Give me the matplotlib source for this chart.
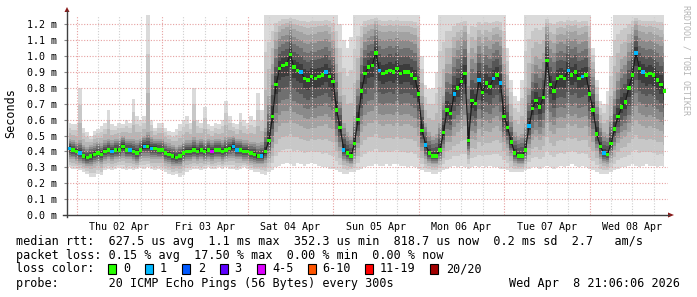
import numpy as np
import matplotlib
matplotlib.use("Agg")
import matplotlib.pyplot as plt
from matplotlib.lines import Line2D
from matplotlib.patches import Rectangle, Polygon

# hours since Thu 02 Apr 00:00 (one sample per hour, Apr 1 22:00 .. Apr 8 21:00)
hours = np.arange(-2, 166)

# median rtt in ms
median_rtt = [
    0.42, 0.41,
    0.40, 0.39, 0.37, 0.36, 0.37, 0.38, 0.39, 0.38, 0.40, 0.41, 0.40, 0.41, 0.41, 0.43, 0.41, 0.41, 0.40, 0.39, 0.41, 0.43, 0.43, 0.42, 0.42, 0.41,
    0.41, 0.39, 0.38, 0.37, 0.36, 0.37, 0.39, 0.40, 0.40, 0.41, 0.40, 0.41, 0.40, 0.41, 0.40, 0.41, 0.41, 0.40, 0.41, 0.42, 0.43, 0.41, 0.41, 0.40,
    0.40, 0.39, 0.38, 0.37, 0.37, 0.40, 0.47, 0.62, 0.82, 0.92, 0.94, 0.95, 1.01, 0.93, 0.91, 0.90, 0.86, 0.85, 0.87, 0.86, 0.87, 0.88, 0.90, 0.87,
    0.84, 0.66, 0.55, 0.41, 0.39, 0.37, 0.45, 0.60, 0.78, 0.89, 0.93, 0.94, 1.02, 0.91, 0.89, 0.90, 0.91, 0.90, 0.92, 0.89, 0.90, 0.90, 0.88, 0.86,
    0.76, 0.53, 0.44, 0.39, 0.37, 0.37, 0.41, 0.52, 0.66, 0.64, 0.76, 0.80, 0.84, 0.89, 0.47, 0.72, 0.70, 0.85, 0.77, 0.83, 0.81, 0.86, 0.88, 0.83,
    0.62, 0.55, 0.46, 0.39, 0.37, 0.37, 0.41, 0.56, 0.67, 0.72, 0.68, 0.74, 0.97, 0.82, 0.78, 0.86, 0.87, 0.86, 0.91, 0.88, 0.90, 0.86, 0.87, 0.88,
    0.76, 0.66, 0.51, 0.43, 0.39, 0.38, 0.45, 0.54, 0.62, 0.68, 0.71, 0.80, 0.88, 1.02, 0.92, 0.90, 0.88, 0.89, 0.88, 0.85, 0.82, 0.78,
]

# smoke: fastest ping, lower quartile, upper quartile, slowest ping (ms)
smoke_lo = [
    0.30, 0.29,
    0.29, 0.28, 0.27, 0.26, 0.24, 0.24, 0.26, 0.25, 0.28, 0.29, 0.28, 0.29, 0.30, 0.29, 0.28, 0.29, 0.28, 0.29, 0.30, 0.29, 0.30, 0.29, 0.28, 0.29,
    0.28, 0.27, 0.26, 0.25, 0.26, 0.24, 0.25, 0.27, 0.28, 0.29, 0.29, 0.28, 0.29, 0.30, 0.29, 0.29, 0.30, 0.29, 0.30, 0.29, 0.29, 0.28, 0.29, 0.30,
    0.29, 0.28, 0.27, 0.27, 0.26, 0.25, 0.27, 0.28, 0.30, 0.31, 0.32, 0.33, 0.32, 0.31, 0.33, 0.32, 0.31, 0.32, 0.33, 0.32, 0.31, 0.30, 0.30, 0.29,
    0.29, 0.28, 0.27, 0.26, 0.26, 0.27, 0.27, 0.28, 0.29, 0.30, 0.31, 0.31, 0.32, 0.31, 0.31, 0.32, 0.31, 0.32, 0.32, 0.31, 0.31, 0.30, 0.31, 0.30,
    0.29, 0.28, 0.27, 0.27, 0.26, 0.26, 0.27, 0.28, 0.29, 0.30, 0.31, 0.30, 0.31, 0.30, 0.29, 0.30, 0.31, 0.30, 0.31, 0.30, 0.31, 0.30, 0.30, 0.29,
    0.29, 0.28, 0.27, 0.27, 0.27, 0.27, 0.28, 0.29, 0.30, 0.30, 0.29, 0.30, 0.31, 0.30, 0.29, 0.30, 0.31, 0.30, 0.31, 0.32, 0.31, 0.30, 0.31, 0.30,
    0.29, 0.28, 0.27, 0.26, 0.26, 0.26, 0.27, 0.28, 0.29, 0.30, 0.30, 0.31, 0.32, 0.31, 0.30, 0.31, 0.32, 0.31, 0.31, 0.30, 0.31, 0.30,
]
smoke_q1 = [
    0.35, 0.35,
    0.34, 0.33, 0.32, 0.31, 0.31, 0.32, 0.33, 0.32, 0.34, 0.35, 0.34, 0.35, 0.35, 0.36, 0.35, 0.35, 0.34, 0.33, 0.35, 0.36, 0.36, 0.35, 0.35, 0.35,
    0.35, 0.33, 0.32, 0.31, 0.31, 0.31, 0.33, 0.34, 0.34, 0.35, 0.34, 0.35, 0.34, 0.35, 0.34, 0.35, 0.35, 0.34, 0.35, 0.36, 0.36, 0.35, 0.35, 0.34,
    0.34, 0.33, 0.32, 0.32, 0.32, 0.33, 0.36, 0.42, 0.52, 0.56, 0.58, 0.58, 0.60, 0.58, 0.57, 0.56, 0.55, 0.54, 0.55, 0.55, 0.56, 0.56, 0.57, 0.55,
    0.54, 0.46, 0.40, 0.34, 0.33, 0.32, 0.35, 0.42, 0.52, 0.56, 0.58, 0.58, 0.60, 0.57, 0.56, 0.57, 0.57, 0.56, 0.58, 0.56, 0.57, 0.57, 0.56, 0.55,
    0.50, 0.40, 0.35, 0.33, 0.32, 0.32, 0.34, 0.40, 0.46, 0.46, 0.50, 0.52, 0.54, 0.56, 0.38, 0.48, 0.47, 0.54, 0.50, 0.53, 0.52, 0.55, 0.56, 0.53,
    0.46, 0.42, 0.37, 0.33, 0.32, 0.32, 0.34, 0.42, 0.47, 0.49, 0.47, 0.50, 0.58, 0.53, 0.51, 0.55, 0.55, 0.55, 0.57, 0.56, 0.57, 0.55, 0.55, 0.56,
    0.50, 0.46, 0.40, 0.35, 0.33, 0.32, 0.36, 0.41, 0.45, 0.48, 0.49, 0.52, 0.56, 0.60, 0.57, 0.56, 0.55, 0.56, 0.55, 0.54, 0.53, 0.51,
]
smoke_q3 = [
    0.48, 0.47,
    0.46, 0.47, 0.44, 0.43, 0.44, 0.45, 0.46, 0.45, 0.47, 0.48, 0.47, 0.48, 0.48, 0.50, 0.48, 0.48, 0.48, 0.47, 0.48, 0.50, 0.52, 0.49, 0.48, 0.48,
    0.48, 0.46, 0.45, 0.44, 0.43, 0.44, 0.46, 0.47, 0.47, 0.49, 0.47, 0.48, 0.47, 0.48, 0.47, 0.48, 0.48, 0.47, 0.49, 0.49, 0.50, 0.48, 0.48, 0.47,
    0.47, 0.46, 0.46, 0.45, 0.46, 0.55, 0.75, 0.95, 1.10, 1.15, 1.17, 1.18, 1.20, 1.17, 1.16, 1.15, 1.14, 1.13, 1.14, 1.14, 1.15, 1.15, 1.16, 1.14,
    1.10, 0.95, 0.75, 0.58, 0.52, 0.50, 0.62, 0.85, 1.05, 1.14, 1.16, 1.17, 1.20, 1.16, 1.15, 1.15, 1.16, 1.15, 1.16, 1.15, 1.15, 1.15, 1.14, 1.13,
    1.05, 0.75, 0.58, 0.52, 0.50, 0.51, 0.58, 0.75, 0.95, 0.95, 1.05, 1.10, 1.12, 1.15, 0.90, 1.05, 1.02, 1.12, 1.08, 1.12, 1.10, 1.13, 1.14, 1.12,
    0.95, 0.80, 0.62, 0.52, 0.50, 0.51, 0.58, 0.80, 0.95, 1.00, 0.98, 1.02, 1.18, 1.10, 1.08, 1.13, 1.14, 1.13, 1.16, 1.15, 1.16, 1.13, 1.14, 1.15,
    1.05, 0.92, 0.72, 0.58, 0.52, 0.51, 0.62, 0.78, 0.90, 0.98, 1.00, 1.08, 1.14, 1.20, 1.16, 1.15, 1.14, 1.15, 1.14, 1.13, 1.12, 1.08,
]
smoke_hi = [
    0.58, 0.57,
    0.57, 0.80, 0.55, 0.52, 0.50, 0.53, 0.54, 0.56, 0.58, 0.66, 0.57, 0.56, 0.58, 0.57, 0.60, 0.58, 0.73, 0.62, 0.60, 0.62, 1.26, 0.60, 0.55, 0.58,
    0.58, 0.55, 0.53, 0.52, 0.54, 0.57, 0.60, 0.62, 0.58, 0.80, 0.60, 0.58, 0.68, 0.57, 0.56, 0.58, 0.57, 0.60, 0.72, 0.62, 0.58, 0.57, 0.64, 0.60,
    0.58, 0.62, 0.60, 0.77, 0.66, 1.26, 1.26, 1.26, 1.26, 1.26, 1.26, 1.26, 1.26, 1.26, 1.26, 1.26, 1.26, 1.26, 1.26, 1.26, 1.26, 1.26, 1.26, 1.26,
    1.26, 1.26, 1.20, 1.10, 1.05, 1.12, 1.26, 1.26, 1.26, 1.26, 1.26, 1.26, 1.26, 1.26, 1.26, 1.26, 1.26, 1.26, 1.26, 1.26, 1.26, 1.26, 1.26, 1.26,
    1.26, 1.00, 0.82, 0.79, 0.80, 0.90, 1.26, 1.26, 1.26, 1.26, 1.26, 1.26, 1.26, 1.26, 1.26, 1.26, 1.26, 1.26, 1.26, 1.26, 1.26, 1.26, 1.26, 1.26,
    1.26, 1.05, 0.85, 0.75, 0.72, 0.85, 1.26, 1.26, 1.26, 1.26, 1.26, 1.26, 1.26, 1.26, 1.26, 1.26, 1.26, 1.26, 1.26, 1.26, 1.26, 1.26, 1.26, 1.26,
    1.26, 1.05, 0.85, 0.72, 0.70, 0.78, 1.00, 1.26, 1.26, 1.26, 1.26, 1.26, 1.26, 1.26, 1.26, 1.26, 1.26, 1.26, 1.26, 1.26, 1.26, 1.26,
]

# samples with packet loss (index into hours, lost pings out of 20)
lossy_idx = [0, 3, 12, 17, 21, 23, 40, 46, 47, 54, 65, 72, 77, 87, 100, 108, 115, 119, 121, 129, 140, 144, 150, 159, 161]
lossy_count = [1, 1, 1, 1, 1, 1, 4, 1, 1, 1, 1, 1, 1, 1, 1, 1, 1, 1, 1, 1, 1, 1, 1, 1, 1]

day_labels = ["Thu 02 Apr", "Fri 03 Apr", "Sat 04 Apr", "Sun 05 Apr",
              "Mon 06 Apr", "Tue 07 Apr", "Wed 08 Apr"]
loss_labels = ["0", "1", "2", "3", "4-5", "6-10", "11-19", "20/20"]
loss_colors = ["#26ff00", "#00b8ff", "#0059ff", "#5e00ff", "#dd00ff",
               "#ff5500", "#ff0000", "#a10000"]

W, H = 697, 297
fig = plt.figure(figsize=(W / 100, H / 100), dpi=100)
fig.patch.set_facecolor("white")
ax = fig.add_axes([67 / W, 1 - 215 / H, (668 - 67) / W, (215 - 15) / H])

med = np.array(median_rtt)
lo = np.array(smoke_lo)
q1 = np.array(smoke_q1)
q3 = np.array(smoke_q3)
hi = np.array(smoke_hi)

# smoke, light outside to dark near the median
outer_cols = ["#dadada", "#c8c8c8", "#b6b6b6"]
for i, c in enumerate(outer_cols):
    f = i / len(outer_cols)
    ax.fill_between(hours, lo + (q1 - lo) * f, hi + (q3 - hi) * f,
                    step="mid", color=c, lw=0, zorder=2)
inner_cols = ["#a2a2a2", "#8a8a8a", "#707070", "#565656", "#3c3c3c"]
for i, c in enumerate(inner_cols):
    f = i / len(inner_cols)
    ax.fill_between(hours, q1 + (med - q1) * f, q3 + (med - q3) * f,
                    step="mid", color=c, lw=0, zorder=3)

# grid
for h in range(0, 166, 6):
    col = "#e6a0a0" if h % 24 == 0 else "#cfcfcf"
    ax.axvline(h, color=col, lw=0.8, ls=(0, (1, 1.5)), zorder=4)
for v in np.arange(0.1, 1.25, 0.1):
    ax.axhline(v, color="#e6a0a0", lw=0.8, ls=(0, (1, 1.5)), zorder=4)

# median line coloured by loss
ax.plot(hours, med, color="#1a1a1a", lw=0.8, zorder=5)
colors = [loss_colors[0]] * len(hours)
for k, n in zip(lossy_idx, lossy_count):
    if n <= 3:
        colors[k] = loss_colors[n]
    elif n <= 5:
        colors[k] = loss_colors[4]
    elif n <= 10:
        colors[k] = loss_colors[5]
    elif n <= 19:
        colors[k] = loss_colors[6]
    else:
        colors[k] = loss_colors[7]
ax.scatter(hours, med, c=colors, marker="s", s=6, lw=0, zorder=6)

ax.set_xlim(-2.67, 166.0)
ax.set_ylim(0, 1.258)
ax.set_facecolor("white")
for s in ax.spines.values():
    s.set_visible(False)

mono = "DejaVu Sans Mono"
ax.set_xticks([12 + 24 * d for d in range(7)])
ax.set_xticklabels(day_labels, fontsize=7.2, family=mono)
ax.set_yticks(np.round(np.arange(0, 1.25, 0.1), 1))
ax.set_yticklabels([f"{v:.1f} m" for v in np.arange(0, 1.25, 0.1)], fontsize=7.2, family=mono)
ax.tick_params(axis="x", length=0, pad=5)
ax.tick_params(axis="y", length=2, color="#888888", pad=5)

# axes with arrows
fig.add_artist(Line2D([67 / W, 67 / W], [1 - 217 / H, 1 - 11 / H], color="#404040", lw=1))
fig.add_artist(Line2D([63 / W, 669 / W], [1 - 215 / H, 1 - 215 / H], color="#404040", lw=1))
fig.add_artist(Polygon([[64.5 / W, 1 - 12 / H], [69.5 / W, 1 - 12 / H], [67 / W, 1 - 7 / H]],
                       closed=True, color="#8b1a1a", lw=0))
fig.add_artist(Polygon([[668 / W, 1 - 212.5 / H], [668 / W, 1 - 217.5 / H], [674 / W, 1 - 215 / H]],
                       closed=True, color="#8b1a1a", lw=0))

fig.text(11 / W, 1 - 113 / H, "Seconds", rotation=90, ha="center", va="center",
         fontsize=8.5, family=mono)
fig.text(686 / W, 1 - 5 / H, "RRDTOOL / TOBI OETIKER", rotation=-90, ha="center", va="top",
         fontsize=6, family=mono, color="#b4b4b4")

# legend
fs = 8.5
fig.text(16 / W, 1 - 241 / H,
         "median rtt:  627.5 us avg  1.1 ms max  352.3 us min  818.7 us now  0.2 ms sd  2.7   am/s",
         fontsize=fs, family=mono, va="center")
fig.text(16 / W, 1 - 255.5 / H,
         "packet loss: 0.15 % avg  17.50 % max  0.00 % min  0.00 % now",
         fontsize=fs, family=mono, va="center")
fig.text(16 / W, 1 - 269 / H, "loss color:", fontsize=fs, family=mono, va="center")
box_x = [107.5, 145, 182, 219.5, 257, 307.5, 365, 430]
lab_x = [123.5, 160, 198, 234, 272, 322, 380, 446]
for bx, lx, lab, col in zip(box_x, lab_x, loss_labels, loss_colors):
    fig.add_artist(Rectangle((bx / W, 1 - 274 / H), 8 / W, 10 / H, facecolor=col,
                             edgecolor="black", lw=0.8))
    fig.text(lx / W, 1 - 269 / H, lab, fontsize=fs, family=mono, va="center")
fig.text(16 / W, 1 - 283.5 / H, "probe:       20 ICMP Echo Pings (56 Bytes) every 300s",
         fontsize=fs, family=mono, va="center")
fig.text(680 / W, 1 - 283.5 / H, "Wed Apr  8 21:06:06 2026", fontsize=fs, family=mono,
         va="center", ha="right")

fig.savefig("out.png", dpi=100, facecolor="white")
